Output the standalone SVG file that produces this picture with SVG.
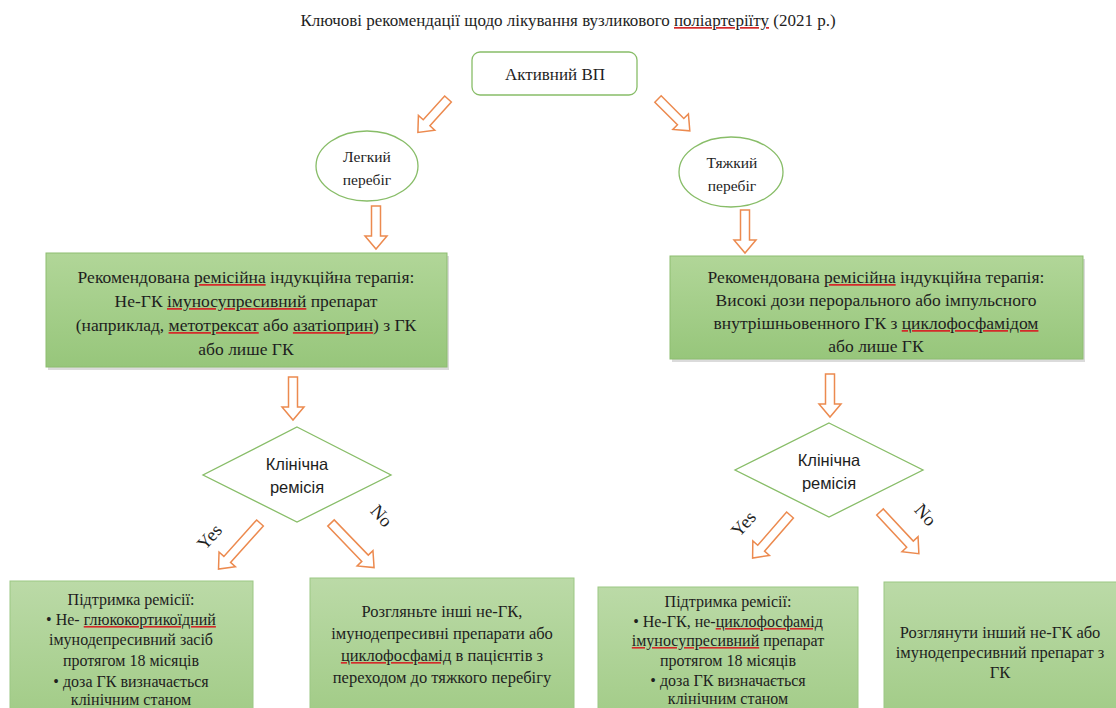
<svg xmlns="http://www.w3.org/2000/svg" width="1116" height="708" viewBox="0 0 1116 708">
<defs>
<linearGradient id="gBig" x1="0" y1="0" x2="0" y2="1">
<stop offset="0" stop-color="#b1d698"/><stop offset="1" stop-color="#97c67b"/>
</linearGradient>
<linearGradient id="gSmall" x1="0" y1="0" x2="0" y2="1">
<stop offset="0" stop-color="#bbdaa7"/><stop offset="1" stop-color="#a1cb86"/>
</linearGradient>
<path id="a43" d="M-4.5,0H4.5V30H11L0,43L-11,30H-4.5Z"/>
<path id="a45" d="M-4.5,0H4.5V32H11L0,45L-11,32H-4.5Z"/>
<path id="a57" d="M-4.5,0H4.5V44H11L0,57L-11,44H-4.5Z"/>
<path id="a62" d="M-4.5,0H4.5V49H11L0,62L-11,49H-4.5Z"/>
</defs>
<style>
.t{font-family:'Liberation Serif','Times New Roman',serif;fill:#1e1e1e;text-anchor:middle}
.s{font-family:'Liberation Sans',Arial,sans-serif;fill:#1e1e1e;text-anchor:middle}
.arr{fill:#fff;stroke:#ec8a4f;stroke-width:1.5;stroke-linejoin:miter}
.gl{fill:#fff;stroke:#88bd68;stroke-width:1.3}
.big{fill:url(#gBig);stroke:#8dbd70;stroke-width:1}
.small{fill:url(#gSmall);stroke:#9cc784;stroke-width:1}
.shadow{fill:#bdbdbd;opacity:0.55}
.u{fill:#d42a2a;text-decoration-line:underline;text-decoration-style:wavy;text-decoration-color:#d42a2a;text-decoration-thickness:1px}
.u tspan{fill:#1e1e1e}
</style>
<rect width="1116" height="708" fill="#ffffff"/>

<g id="title">
<text class="t" x="568" y="26" font-size="17">Ключові рекомендації щодо лікування вузликового <tspan class="u"><tspan>поліартеріїту</tspan></tspan> (2021 р.)</text>
</g>

<g id="node-active">
<rect class="gl" x="472" y="52" width="165" height="43" rx="8"/>
<text class="t" x="555" y="80" font-size="17">Активний ВП</text>
</g>

<g id="node-mild">
<ellipse class="gl" cx="367" cy="166" rx="51" ry="35"/>
<text class="t" x="367" y="162" font-size="15.5">Легкий</text>
<text class="t" x="367" y="185" font-size="15.5">перебіг</text>
</g>

<g id="node-severe">
<ellipse class="gl" cx="731" cy="172" rx="52" ry="35"/>
<text class="t" x="732" y="168" font-size="15.5">Тяжкий</text>
<text class="t" x="732" y="191" font-size="15.5">перебіг</text>
</g>

<g id="node-induction-left">
<rect class="shadow" x="48" y="256" width="401" height="114"/>
<rect class="big" x="46" y="253" width="401" height="114"/>
<text class="t" x="246" y="283" font-size="17.5">Рекомендована <tspan class="u"><tspan>ремісійна</tspan></tspan> індукційна терапія:</text>
<text class="t" x="246" y="307" font-size="17.5">Не-ГК <tspan class="u"><tspan>імуносупресивний</tspan></tspan> препарат</text>
<text class="t" x="246" y="331" font-size="17.5">(наприклад, <tspan class="u"><tspan>метотрексат</tspan></tspan> або <tspan class="u"><tspan>азатіоприн</tspan></tspan>) з ГК</text>
<text class="t" x="246" y="355" font-size="17.5">або лише ГК</text>
</g>

<g id="node-induction-right">
<rect class="shadow" x="672" y="259" width="413" height="103"/>
<rect class="big" x="670" y="256" width="413" height="103"/>
<text class="t" x="876" y="283" font-size="17.5">Рекомендована <tspan class="u"><tspan>ремісійна</tspan></tspan> індукційна терапія:</text>
<text class="t" x="876" y="306" font-size="17.5">Високі дози перорального або імпульсного</text>
<text class="t" x="876" y="329" font-size="17.5">внутрішньовенного ГК з <tspan class="u"><tspan>циклофосфамідом</tspan></tspan></text>
<text class="t" x="876" y="352" font-size="17.5">або лише ГК</text>
</g>

<g id="node-decision-left">
<polygon class="gl" points="297,427 391,475 297,522 203,475"/>
<text class="s" x="297" y="470" font-size="16.5">Клінічна</text>
<text class="s" x="297" y="493" font-size="16.5">ремісія</text>
</g>

<g id="node-decision-right">
<polygon class="gl" points="829,423 923,470 829,517 735,470"/>
<text class="s" x="829" y="466" font-size="16.5">Клінічна</text>
<text class="s" x="829" y="489" font-size="16.5">ремісія</text>
</g>

<g id="node-maint-left">
<rect class="small" x="10" y="581" width="243" height="140"/>
<text class="t" x="131" y="605" font-size="16">Підтримка ремісії:</text>
<text class="t" x="131" y="625" font-size="16">• Не- <tspan class="u"><tspan>глюкокортикоїдний</tspan></tspan></text>
<text class="t" x="131" y="645" font-size="16">імунодепресивний засіб</text>
<text class="t" x="131" y="666" font-size="16">протягом 18 місяців</text>
<text class="t" x="131" y="687" font-size="16">• доза ГК  визначається</text>
<text class="t" x="131" y="705" font-size="16">клінічним станом</text>
</g>

<g id="node-other-left">
<rect class="small" x="310" y="578" width="264" height="140"/>
<text class="t" x="442" y="617" font-size="16.5">Розгляньте інші не-ГК,</text>
<text class="t" x="442" y="639" font-size="16.5">імунодепресивні препарати  або</text>
<text class="t" x="442" y="661" font-size="16.5"><tspan class="u"><tspan>циклофосфамід</tspan></tspan> в пацієнтів з</text>
<text class="t" x="442" y="683" font-size="16.5">переходом до тяжкого перебігу</text>
</g>

<g id="node-maint-right">
<rect class="small" x="598" y="587" width="260" height="140"/>
<text class="t" x="728" y="607" font-size="16">Підтримка ремісії:</text>
<text class="t" x="728" y="627" font-size="16">• Не-ГК, не-<tspan class="u"><tspan>циклофосфамід</tspan></tspan></text>
<text class="t" x="728" y="646" font-size="16"><tspan class="u"><tspan>імуносупресивний</tspan></tspan> препарат</text>
<text class="t" x="728" y="666" font-size="16">протягом 18 місяців</text>
<text class="t" x="728" y="686" font-size="16">• доза ГК визначається</text>
<text class="t" x="728" y="704" font-size="16">клінічним станом</text>
</g>

<g id="node-other-right">
<rect class="small" x="884" y="582" width="240" height="140"/>
<text class="t" x="1000" y="638" font-size="16.5">Розглянути інший не-ГК або</text>
<text class="t" x="1000" y="658" font-size="16.5">імунодепресивний препарат з</text>
<text class="t" x="1000" y="678" font-size="16.5">ГК</text>
</g>

<g id="connectors">
<use href="#a45" class="arr" transform="translate(448,99) rotate(42)"/>
<use href="#a45" class="arr" transform="translate(658,99) rotate(-45)"/>
<use href="#a43" class="arr" transform="translate(376,206)"/>
<use href="#a43" class="arr" transform="translate(745,210)"/>
<use href="#a43" class="arr" transform="translate(293,377)"/>
<use href="#a43" class="arr" transform="translate(830,374)"/>
<use href="#a62" class="arr" transform="translate(260,523) rotate(42)"/>
<use href="#a62" class="arr" transform="translate(331,523) rotate(-44)"/>
<use href="#a57" class="arr" transform="translate(790,515) rotate(41)"/>
<use href="#a57" class="arr" transform="translate(880,512) rotate(-43)"/>
<text class="t" font-size="18.5" transform="translate(214,541) rotate(-48)">Yes</text>
<text class="t" font-size="18.5" transform="translate(377,520) rotate(48)">No</text>
<text class="t" font-size="18.5" transform="translate(748,528) rotate(-48)">Yes</text>
<text class="t" font-size="18.5" transform="translate(921,519) rotate(48)">No</text>
</g>
</svg>
